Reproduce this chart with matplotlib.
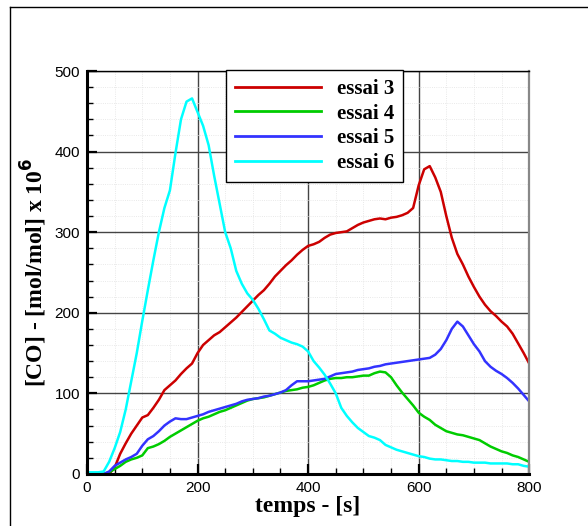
import matplotlib
matplotlib.use("Agg")
import matplotlib.pyplot as plt
from matplotlib.lines import Line2D
import numpy as np

# time axis (s), one reading every 10 s
t = np.arange(0, 801, 10)

# [CO] in mol/mol x 1e6
essai3 = [0, 0, 0, 0, 0, 8, 25, 38, 50, 60,
          70, 73, 82, 92, 104, 110, 116, 124, 131, 137,
          150, 160, 166, 172, 176, 182, 188, 194, 201, 208,
          215, 222, 228, 236, 245, 252, 259, 265, 272, 278,
          283, 285, 288, 293, 297, 299, 300, 301, 305, 309,
          312, 314, 316, 317, 316, 318, 319, 321, 324, 330,
          358, 378, 382, 368, 350, 320, 293, 273, 260, 245,
          232, 220, 210, 202, 196, 189, 183, 174, 162, 150,
          137]
essai4 = [0, 0, 0, 0, 2, 6, 10, 15, 18, 20,
          23, 32, 34, 37, 41, 46, 50, 54, 58, 62,
          66, 69, 71, 74, 77, 79, 82, 85, 88, 91,
          93, 94, 95, 97, 99, 101, 103, 104, 105, 107,
          108, 110, 113, 116, 118, 119, 119, 120, 120, 121,
          122, 122, 125, 127, 126, 120, 110, 101, 93, 85,
          76, 71, 67, 61, 57, 53, 51, 49, 48, 46,
          44, 42, 38, 34, 31, 28, 26, 23, 21, 18,
          15]
essai5 = [0, 0, 0, 0, 3, 10, 14, 18, 21, 25,
          35, 43, 47, 53, 60, 65, 69, 68, 68, 70,
          72, 74, 77, 79, 81, 83, 85, 87, 90, 92,
          93, 94, 96, 97, 99, 101, 104, 110, 115, 115,
          115, 116, 117, 118, 121, 124, 125, 126, 127, 129,
          130, 131, 133, 134, 136, 137, 138, 139, 140, 141,
          142, 143, 144, 148, 155, 166, 180, 189, 183, 172,
          161, 152, 140, 133, 128, 124, 119, 113, 106, 98,
          90]
essai6 = [2, 2, 2, 3, 15, 32, 52, 80, 115, 150,
          190, 228, 265, 300, 330, 352, 398, 440, 462, 466,
          449, 432, 408, 370, 335, 300, 280, 252, 236, 224,
          216, 205, 192, 178, 174, 169, 166, 163, 161, 158,
          152, 140, 132, 123, 112, 100, 82, 72, 64, 57,
          52, 47, 45, 42, 36, 33, 30, 28, 26, 24,
          22, 21, 19, 18, 18, 17, 16, 16, 15, 15,
          14, 14, 14, 13, 13, 13, 13, 12, 12, 10,
          9]

labels = ["essai 3", "essai 4", "essai 5", "essai 6"]
colors = ["#cc0000", "#00cc00", "#3333ff", "#00ffff"]

fig = plt.figure(figsize=(5.88, 5.26), dpi=100)
ax = fig.add_axes([0.148, 0.099, 0.752, 0.766])

# frame lines on the left and top of the page
fig.add_artist(Line2D([10/588, 10/588], [0, 1 - 7/526], color="black", lw=1.0))
fig.add_artist(Line2D([10/588, 1], [1 - 7/526, 1 - 7/526], color="black", lw=1.0))

for y, lab, c in zip([essai3, essai4, essai5, essai6], labels, colors):
    ax.plot(t, y, color=c, lw=1.8, label=lab)

ax.set_xlim(0, 800)
ax.set_ylim(0, 500)
ax.set_xticks([0, 200, 400, 600, 800])
ax.set_yticks([0, 100, 200, 300, 400, 500])
ax.set_xticks(np.arange(0, 801, 50), minor=True)
ax.set_yticks(np.arange(0, 501, 20), minor=True)

ax.grid(True, which="major", color="#444444", lw=1.0)
ax.grid(True, which="minor", color="#e2e2e2", lw=0.6, ls=":")
ax.set_axisbelow(True)

ax.tick_params(which="major", direction="in", length=7, width=1.6, pad=5,
               labelsize=11, labelfontfamily="Liberation Sans")
ax.tick_params(which="minor", direction="in", length=4, width=1.0)

ax.spines["left"].set_linewidth(2.2)
ax.spines["bottom"].set_linewidth(2.2)
ax.spines["top"].set_linewidth(1.0)
ax.spines["right"].set_linewidth(1.6)
ax.spines["right"].set_color("#888888")

ax.set_xlabel("temps - [s]", fontsize=17, fontweight="bold",
              family="Liberation Serif", labelpad=1)
ax.set_ylabel("[CO] - [mol/mol] x 10$^{\\mathbf{6}}$", fontsize=17, fontweight="bold",
              family="Liberation Serif", labelpad=4)

leg = ax.legend(loc="upper left", bbox_to_anchor=(0.3145, 1.003),
                frameon=True, fancybox=False, borderaxespad=0,
                handlelength=4.1, handletextpad=0.75, labelspacing=0.22,
                borderpad=0.45,
                prop={"family": "Liberation Serif", "weight": "bold", "size": 15})
leg.get_frame().set_edgecolor("black")
leg.get_frame().set_linewidth(1.0)
leg.get_frame().set_alpha(1)
for line in leg.get_lines():
    line.set_linewidth(2.0)

fig.savefig("out.png", dpi=100)
